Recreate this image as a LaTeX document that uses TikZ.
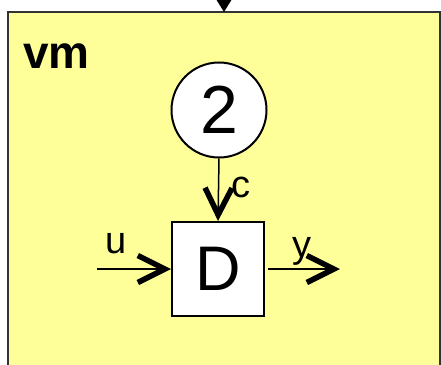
\documentclass[tikz,border=0pt]{standalone}
\usepackage{fontspec}
\setmainfont{Liberation Sans}
\usetikzlibrary{arrows.meta}
\definecolor{bgyellow}{HTML}{FFFF99}
\begin{document}
\begin{tikzpicture}[x=1pt,y=-1pt,
  barb/.style={-{Straight Barb[length=27pt,width=27pt,line width=5.5pt]}, line width=1.5pt},
  lab/.style={font=\fontsize{38}{38}\selectfont, inner sep=0pt, anchor=base west},
  blockbox/.style={draw, fill=white, line width=2pt, inner sep=0pt, text depth=0pt}]
\useasboundingbox (0,0) rectangle (441,364);
\clip (0,0) rectangle (441,364);
\fill[bgyellow, draw=black!80, line width=2pt] (8,12) rectangle (440,390);
\node[font=\bfseries\fontsize{46}{46}\selectfont, anchor=base west, inner sep=0pt] (title) at (23,68) {vm};
\node[blockbox, circle, minimum size=95pt, font=\fontsize{68}{68}\selectfont] (two) at (219,110) {2};
\node[blockbox, minimum width=92pt, minimum height=94pt, font=\fontsize{63}{63}\selectfont] (D) at (218,269) {D};
\coordinate (uin) at (97,269);
\coordinate (yout) at (340,269);
\coordinate (topin) at (224,-30);
\coordinate (toptip) at (224,12);
\draw[barb] (uin) -- (D.west);
\draw[barb, shorten <=3pt] (D.east) -- (yout);
\draw[barb] (two.south) -- (D.north);
\draw[-{Triangle[length=14pt,width=17pt]}, line width=1.5pt] (topin) -- (toptip);
\node[lab] (lu) at (105,253) {u};
\node[lab] (ly) at (292,257) {y};
\node[lab] (lc) at (231,197) {c};
\end{tikzpicture}
\end{document}
